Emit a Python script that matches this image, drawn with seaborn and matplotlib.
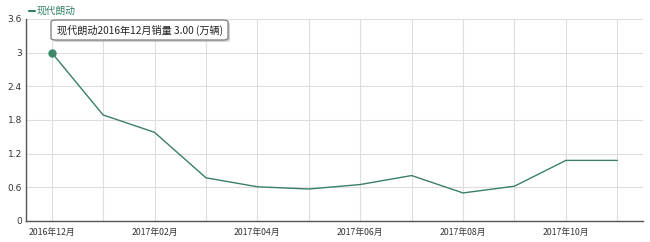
import matplotlib
matplotlib.use("Agg")
import matplotlib.pyplot as plt
import seaborn as sns
import pandas as pd
from matplotlib.patches import FancyBboxPatch

months = ["2016年12月", "2017年01月", "2017年02月", "2017年03月", "2017年04月", "2017年05月",
          "2017年06月", "2017年07月", "2017年08月", "2017年09月", "2017年10月", "2017年11月"]
sales = [3.00, 1.89, 1.58, 0.77, 0.61, 0.57, 0.65, 0.81, 0.50, 0.62, 1.08, 1.08]
series_name = "现代朗动"
yticks = [0, 0.6, 1.2, 1.8, 2.4, 3, 3.6]
ytick_labels = ["0", "0.6", "1.2", "1.8", "2.4", "3", "3.6"]

sns.set_style("white")
plt.rcParams['font.family'] = ['Noto Sans CJK SC', 'DejaVu Sans']

df = pd.DataFrame({"idx": range(len(months)), "sales": sales})

fig = plt.figure(figsize=(6.5, 2.42), dpi=100)
ax = fig.add_axes([26/650, 1-221/242, (643-26)/650, (221-19)/242])

line_color = "#3a7f68"
sns.lineplot(data=df, x="idx", y="sales", ax=ax, color=line_color, linewidth=1.0)
ax.plot([0], [sales[0]], marker="o", markersize=5, color="#3d8a68", zorder=5)

ax.set_xlim(-0.5, len(months) - 0.5)
ax.set_ylim(0, 3.6)
ax.set_yticks(yticks)
ax.set_yticklabels(ytick_labels, fontsize=6.5, color="#333333", family=["DejaVu Sans"])
ax.set_xticks(range(len(months)))
ax.set_xticklabels([m if i % 2 == 0 else "" for i, m in enumerate(months)], fontsize=6.3, color="#333333")
ax.set_xlabel("")
ax.set_ylabel("")

ax.grid(True, color="#dddddd", linewidth=0.8)
ax.set_axisbelow(True)
for s in ["top", "right"]:
    ax.spines[s].set_visible(False)
ax.spines["left"].set_color("#555555")
ax.spines["bottom"].set_color("#555555")
ax.spines["left"].set_linewidth(1.0)
ax.spines["bottom"].set_linewidth(1.0)
ax.tick_params(axis="x", length=3, width=0.8, color="#555555", pad=2)
ax.tick_params(axis="y", length=0, pad=3)

# legend
fig.lines.append(plt.Line2D([29/650, 35/650], [1-11/242, 1-11/242], transform=fig.transFigure,
                            color="#2e8060", linewidth=1.5))
fig.text(37/650, 1-11/242, series_name, fontsize=7, color="#2e8060", va="center", ha="left")

# tooltip
tip = FancyBboxPatch((51/650, 1-40/242), (228-51)/650, 20/242,
                     boxstyle="round,pad=0,rounding_size=0.008", transform=fig.transFigure,
                     facecolor="white", edgecolor="#888888", linewidth=1.0, zorder=10)
shadow = FancyBboxPatch((53/650, 1-42/242), (228-51)/650, 20/242,
                        boxstyle="round,pad=0,rounding_size=0.008", transform=fig.transFigure,
                        facecolor="#bbbbbb", edgecolor="none", zorder=9, alpha=0.7)
fig.patches.extend([shadow, tip])
fig.text(57/650, 1-30/242, f"{series_name}{months[0]}销量 {sales[0]:.2f} (万辆)", fontsize=7.3,
         color="#222222", va="center", ha="left", zorder=11)

fig.savefig("out.png", dpi=100)
